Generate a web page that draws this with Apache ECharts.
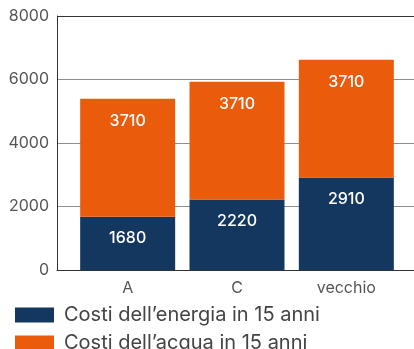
<!DOCTYPE html>
<html>
<head>
<meta charset="utf-8">
<script src="https://cdn.jsdelivr.net/npm/echarts@6/dist/echarts.min.js"></script>
<style>
  html, body { margin: 0; padding: 0; background: #fff; }
  #chart { width: 414px; height: 349px; }
</style>
</head>
<body>
<div id="chart"></div>
<script>
// Categories and stacked series values
const categories = ['A', 'C', 'vecchio'];
const energyCosts = [1680, 2220, 2910];
const waterCosts = [3710, 3710, 3710];
const seriesNames = ['Costi dell\u2019energia in 15 anni', 'Costi dell\u2019acqua in 15 anni'];
const yTicks = { min: 0, max: 8000, interval: 2000 };

const FONT = 'Inter, "Noto Sans", sans-serif';
const NAVY = '#13375e';
const ORANGE = '#ea5b0c';

const chart = echarts.init(document.getElementById('chart'), null, { renderer: 'canvas' });

const barLabel = {
  show: true,
  position: 'insideTop',
  distance: 14,
  color: '#ffffff',
  fontFamily: FONT,
  fontSize: 16,
  fontWeight: 500
};

function legendFor(name, top) {
  return {
    left: 10,
    top: top,
    itemWidth: 39,
    itemHeight: 15,
    icon: 'rect',
    textStyle: { color: '#444', fontSize: 20, fontFamily: FONT, padding: [0, 0, 0, 5] },
    data: [name]
  };
}

chart.setOption({
  animation: false,
  backgroundColor: '#ffffff',
  textStyle: { fontFamily: FONT },
  grid: [
    // frame: y-axis, gridlines and baseline
    { left: 57, right: 0, top: 16, bottom: 79, containLabel: false },
    // bars
    { left: 73, right: 13, top: 16, bottom: 79, containLabel: false }
  ],
  xAxis: [
    {
      gridIndex: 0, type: 'value', min: 0, max: 1,
      axisLine: { show: true, lineStyle: { color: '#333', width: 1 } },
      axisTick: { show: false }, axisLabel: { show: false }, splitLine: { show: false }
    },
    {
      gridIndex: 1, type: 'category', data: categories,
      axisLine: { show: false }, axisTick: { show: false },
      axisLabel: { color: '#555', fontSize: 16, fontFamily: FONT, margin: 10 }
    }
  ],
  yAxis: [
    {
      gridIndex: 0, type: 'value', min: yTicks.min, max: yTicks.max, interval: yTicks.interval,
      axisLine: { show: true, lineStyle: { color: '#333', width: 1 } },
      axisTick: { show: false },
      axisLabel: { color: '#555', fontSize: 16, fontFamily: FONT, margin: 8, formatter: v => String(v) },
      splitLine: { show: true, lineStyle: { color: ['#333', '#8f8f8f', '#8f8f8f', '#8f8f8f', '#333'], width: 1 } }
    },
    {
      gridIndex: 1, type: 'value', min: yTicks.min, max: yTicks.max, interval: yTicks.interval,
      show: false, splitLine: { show: false }
    }
  ],
  legend: [legendFor(seriesNames[0], 300), legendFor(seriesNames[1], 328)],
  series: [
    {
      name: seriesNames[0], type: 'bar', stack: 'cost',
      xAxisIndex: 1, yAxisIndex: 1,
      barWidth: 95,
      itemStyle: { color: NAVY },
      label: barLabel,
      data: energyCosts
    },
    {
      name: seriesNames[1], type: 'bar', stack: 'cost',
      xAxisIndex: 1, yAxisIndex: 1,
      barWidth: 95,
      itemStyle: { color: ORANGE },
      label: barLabel,
      data: waterCosts
    }
  ]
});
</script>
</body>
</html>
